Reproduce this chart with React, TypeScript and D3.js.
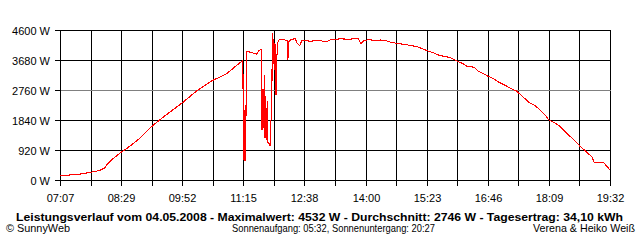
import React from "react";
import * as d3 from "d3";

const times = [
  "07:07","07:16","07:33","07:46","08:00","08:07","08:11","08:18","08:29","08:38",
  "08:52","09:12","09:26","09:53","10:11","10:31","10:52","11:12","11:14","11:15",
  "11:16","11:17","11:18","11:19","11:26","11:33","11:36","11:39","11:40","11:41",
  "11:42","11:43","11:44","11:45","11:46","11:47","11:48","11:49","11:50","11:51",
  "11:52","11:53","11:54","11:55","11:56","11:57","11:58","11:59","12:00","12:01",
  "12:02","12:05","12:10","12:14","12:15","12:16","12:20","12:25","12:27","12:31",
  "12:34","12:37","12:45","12:58","13:07","13:12","13:26","13:39","13:46","13:50",
  "13:54","13:58","14:06","14:13","14:20","14:27","14:33","14:40","14:47","14:54",
  "15:01","15:10","15:16","15:23","15:32","15:41","15:55","16:04","16:13","16:18",
  "16:27","16:33","16:40","16:47","16:54","17:00","17:10","17:16","17:25","17:34",
  "17:41","17:50","17:57","18:04","18:08","18:15","18:22","18:31","18:42","18:51",
  "19:00","19:07","19:10","19:23","19:32"
];
const watts = [
  145,163,193,245,307,390,520,665,868,1003,
  1248,1687,1941,2401,2738,3045,3272,3649,3680,640,
  2150,600,1400,3960,3925,3873,3990,4017,1560,2820,
  1600,3250,1300,2600,1250,2450,1170,1150,1110,1050,
  1840,1900,4532,3560,4350,3400,4200,2620,3750,4150,
  4300,4330,4320,4280,3700,4250,4330,4350,4230,4140,
  4300,4293,4272,4293,4253,4309,4345,4330,4355,4364,
  4192,4293,4324,4278,4309,4293,4247,4217,4192,4171,
  4140,4109,4048,3987,3916,3833,3772,3665,3573,3496,
  3475,3352,3272,3189,3119,3021,2913,2831,2739,2555,
  2401,2300,2147,1993,1861,1788,1687,1481,1257,1043,
  868,715,543,543,307
];
const xTickLabels = ["07:07","08:29","09:52","11:15","12:38","14:00","15:23","16:46","18:09","19:32"];
const yTickValues = [0, 920, 1840, 2760, 3680, 4600];
const averageW = 2746;
const titleText = "Leistungsverlauf vom 04.05.2008 - Maximalwert: 4532 W - Durchschnitt: 2746 W - Tagesertrag: 34,10 kWh";
const leftFooter = "© SunnyWeb";
const centerFooter = "Sonnenaufgang: 05:32, Sonnenuntergang: 20:27";
const rightFooter = "Verena & Heiko Weiß";

const toMin = (s: string) => {
  const [h, m] = s.split(":").map(Number);
  return h * 60 + m;
};

export default function App() {
  const W = 640, H = 240;
  const left = 60.5, right = 610.5, top = 30.5, bottom = 180.5;
  const t0 = toMin(xTickLabels[0]);
  const t1 = toMin(xTickLabels[xTickLabels.length - 1]);
  const x = d3.scaleLinear().domain([t0, t1]).range([left, right]);
  const y = d3.scaleLinear().domain([0, 4600]).range([bottom, top]);
  const snap = (v: number) => Math.round(v - 0.5) + 0.5;

  const data = times.map((t, i) => ({ t: toMin(t), w: watts[i] }));
  const line = d3.line<{ t: number; w: number }>().x(d => x(d.t)).y(d => y(d.w));

  const nCols = (xTickLabels.length - 1) * 2;
  const gridT = d3.range(nCols + 1).map(i => t0 + (i * (t1 - t0)) / nCols);
  const labelT = d3.range(xTickLabels.length).map(i => t0 + (i * (t1 - t0)) / (xTickLabels.length - 1));

  const font = "'Liberation Sans Narrow', 'Liberation Sans', Arial, sans-serif";

  return (
    <svg width={W} height={H} style={{ position: "absolute", left: 0, top: 0, background: "#fff" }}
      fontFamily={font}>
      <rect x={0} y={0} width={W} height={H} fill="#fff" />
      {yTickValues.map(v => (
        <line key={"h" + v} x1={left - 6} x2={right} y1={snap(y(v))} y2={snap(y(v))}
          stroke="#000" strokeWidth={1} shapeRendering="crispEdges" />
      ))}
      {gridT.map((t, i) => (
        <line key={"v" + i} x1={snap(x(t))} x2={snap(x(t))} y1={top} y2={bottom + 5}
          stroke="#000" strokeWidth={1} shapeRendering="crispEdges" />
      ))}
      <line x1={left} x2={right} y1={snap(y(averageW))} y2={snap(y(averageW))}
        stroke="#808080" strokeWidth={1} shapeRendering="crispEdges" />
      <path d={line(data) || ""} fill="none" stroke="#ff0000" strokeWidth={1.1} shapeRendering="crispEdges" />
      {yTickValues.map(v => (
        <text key={"yl" + v} x={50} y={snap(y(v)) + 4} textAnchor="end" fontSize={11} fill="#000">
          {v} W
        </text>
      ))}
      {labelT.map((t, i) => (
        <text key={"xl" + i} x={snap(x(t))} y={201.5} textAnchor="middle" fontSize={11} fill="#000">
          {xTickLabels[i]}
        </text>
      ))}
      <text x={16} y={220.5} fontSize={11.5} fontWeight="bold" textLength={607} lengthAdjust="spacingAndGlyphs"
        fontFamily="'Liberation Sans', Arial, sans-serif" fill="#000">
        {titleText}
      </text>
      <text x={6} y={232} fontSize={11} textLength={64} lengthAdjust="spacingAndGlyphs" fill="#000">{leftFooter}</text>
      <text x={232} y={232} fontSize={11} textLength={203} lengthAdjust="spacingAndGlyphs" fill="#000">{centerFooter}</text>
      <text x={533} y={232} fontSize={11} textLength={102} lengthAdjust="spacingAndGlyphs" fill="#000">{rightFooter}</text>
    </svg>
  );
}
